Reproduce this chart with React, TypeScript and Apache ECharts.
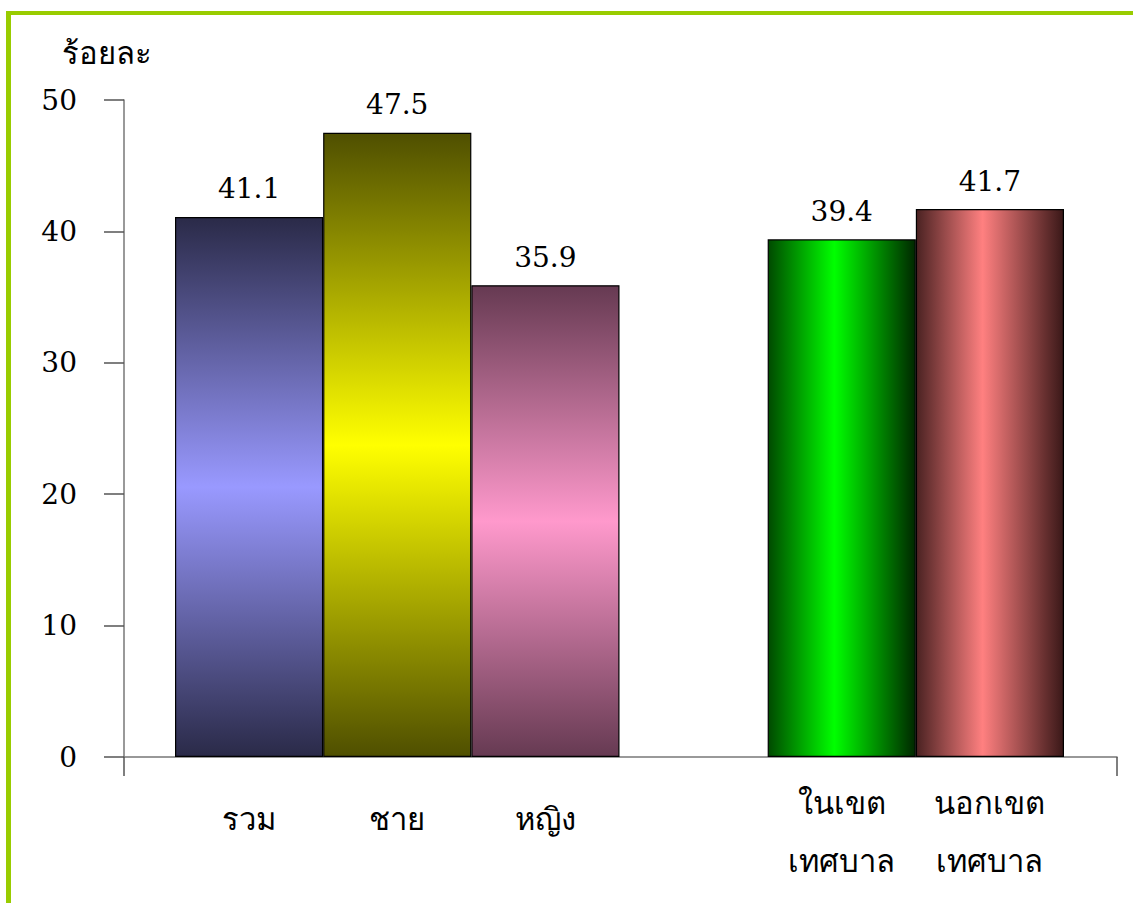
import React, { useEffect, useRef } from "react";
import * as echarts from "echarts";

const categories = ["รวม", "ชาย", "หญิง", "", "ในเขต\nเทศบาล", "นอกเขต\nเทศบาล"];
const values: (number | null)[] = [41.1, 47.5, 35.9, null, 39.4, 41.7];
const yTicks = { min: 0, max: 50, interval: 10 };
const yTitle = "ร้อยละ";

// gradient styles per bar: [direction, stops]
const gradients: { dir: "v" | "h"; stops: [number, string][] }[] = [
  { dir: "v", stops: [[0, "#2a2a48"], [0.5, "#9999ff"], [1, "#2a2a48"]] },
  { dir: "v", stops: [[0, "#4f4f00"], [0.5, "#ffff00"], [1, "#4f4f00"]] },
  { dir: "v", stops: [[0, "#663a52"], [0.5, "#ff99cc"], [1, "#663a52"]] },
  { dir: "v", stops: [[0, "#ffffff"], [1, "#ffffff"]] },
  { dir: "h", stops: [[0, "#004a00"], [0.45, "#00ff00"], [1, "#002800"]] },
  { dir: "h", stops: [[0, "#4a2222"], [0.45, "#ff8080"], [1, "#3a1818"]] },
];

const serif = "DejaVu Serif, Liberation Serif, serif";
const thai = "Noto Sans, sans-serif";

export default function App() {
  const ref = useRef<HTMLDivElement>(null);
  useEffect(() => {
    if (!ref.current) return;
    const chart = echarts.init(ref.current, undefined, { renderer: "svg" });
    const mk = (g: (typeof gradients)[number]) =>
      new echarts.graphic.LinearGradient(
        0,
        0,
        g.dir === "h" ? 1 : 0,
        g.dir === "v" ? 1 : 0,
        g.stops.map(([offset, color]) => ({ offset, color }))
      );
    const top = 100;
    const bottom = 903 - 757;
    chart.setOption({
      animation: false,
      backgroundColor: "#ffffff",
      graphic: [
        { type: "rect", shape: { x: 6, y: 11, width: 1127, height: 4 }, style: { fill: "#99cc00" } },
        { type: "rect", shape: { x: 6, y: 11, width: 5, height: 892 }, style: { fill: "#99cc00" } },
        {
          type: "text",
          x: 62,
          y: 52,
          style: { text: yTitle, font: `31px ${thai}`, fill: "#000", verticalAlign: "middle", align: "left" },
        },
      ],
      grid: [
        { left: 124, right: 1133 - 1117, top, bottom, containLabel: false, outerBoundsMode: "none" },
        { left: 175, right: 1133 - 1064, top, bottom, containLabel: false, outerBoundsMode: "none" },
      ],
      xAxis: [
        {
          gridIndex: 0,
          type: "value",
          min: 0,
          max: 1,
          interval: 1,
          axisLine: { show: true, lineStyle: { color: "#777", width: 1.5 } },
          axisTick: { show: true, length: 19, lineStyle: { color: "#555", width: 1.5 } },
          axisLabel: { show: false },
          splitLine: { show: false },
        },
        {
          gridIndex: 1,
          type: "category",
          data: categories.map((c) =>
            c.includes("\n") ? c : { value: c, textStyle: { lineHeight: 90 } }
          ),
          axisLine: { show: false },
          axisTick: { show: false },
          axisLabel: {
            interval: 0,
            margin: 16,
            verticalAlign: "top",
            lineHeight: 58,
            fontSize: 31,
            fontFamily: thai,
            color: "#000",
          },
        },
      ],
      yAxis: [
        {
          gridIndex: 0,
          type: "value",
          min: yTicks.min,
          max: yTicks.max,
          interval: yTicks.interval,
          axisLine: { show: true, lineStyle: { color: "#777", width: 1.5 } },
          axisTick: { show: true, length: 20, lineStyle: { color: "#555", width: 1.5 } },
          axisLabel: { margin: 47, fontSize: 28, fontFamily: serif, color: "#000" },
          splitLine: { show: false },
        },
        {
          gridIndex: 1,
          type: "value",
          min: yTicks.min,
          max: yTicks.max,
          interval: yTicks.interval,
          show: false,
        },
      ],
      series: [
        {
          type: "bar",
          xAxisIndex: 1,
          yAxisIndex: 1,
          barWidth: "100%",
          barCategoryGap: "0%",
          data: values.map((v, i) => ({
            value: v,
            itemStyle: { color: mk(gradients[i]), borderColor: "#000", borderWidth: 1.2 },
          })),
          label: {
            show: true,
            position: "top",
            distance: 14,
            fontSize: 28,
            fontFamily: serif,
            color: "#000",
            formatter: (p: any) => (p.value == null ? "" : Number(p.value).toFixed(1)),
          },
        },
      ],
    });
    return () => chart.dispose();
  }, []);
  return (
    <div
      ref={ref}
      style={{ position: "fixed", left: 0, top: 0, width: 1133, height: 903, background: "#fff" }}
    />
  );
}
